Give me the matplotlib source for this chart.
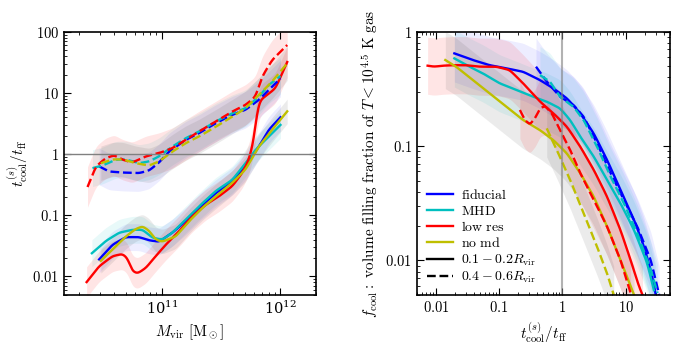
"""
Cooling time ratio vs halo mass, and cool gas filling fraction vs t_cool/t_ff.
"""
import numpy as np
import matplotlib

matplotlib.use("Agg")
import matplotlib.pyplot as plt
from matplotlib.ticker import FuncFormatter, LogLocator

plt.rcParams["mathtext.fontset"] = "cm"
plt.rcParams["font.family"] = "DejaVu Serif"
plt.rcParams["font.size"] = 10.5

# ---- left panel: t_cool/t_ff vs M_vir (inner solid, outer dashed) ----
fid_in_m = [2.97e10, 3.85e10, 4.98e10, 6.45e10, 7.83e10, 9.5e10, 1.23e11, 1.59e11, 2.06e11,
            2.85e11, 3.93e11, 5.08e11, 6.58e11, 7.98e11, 1.0e12]
fid_in_t = [0.019, 0.033, 0.044, 0.044, 0.039, 0.037, 0.052, 0.080, 0.132,
            0.23, 0.36, 0.63, 1.33, 2.5, 4.0]
mhd_in_m = [2.58e10, 3.38e10, 4.38e10, 5.66e10, 6.9e10, 8.36e10, 1.01e11, 1.23e11, 1.59e11,
            2.06e11, 2.85e11, 3.93e11, 5.08e11, 6.17e11, 7.98e11, 1.0e12]
mhd_in_t = [0.024, 0.038, 0.052, 0.058, 0.058, 0.043, 0.040, 0.052, 0.085,
            0.14, 0.25, 0.38, 0.71, 1.18, 1.94, 3.0]
low_in_m = [2.33e10, 2.97e10, 3.85e10, 4.67e10, 5.14e10, 5.66e10, 6.25e10, 7.35e10, 8.9e10,
            1.08e11, 1.4e11, 1.81e11, 2.35e11, 3.03e11, 3.93e11, 4.76e11, 5.42e11, 5.97e11,
            6.37e11, 6.79e11, 7.73e11, 9.08e11, 1.14e12]
low_in_t = [0.0081, 0.0147, 0.0215, 0.0234, 0.020, 0.0122, 0.0112, 0.0138, 0.0215,
            0.033, 0.055, 0.096, 0.149, 0.204, 0.30, 0.49, 0.81, 1.71,
            5.3, 7.7, 9.3, 11.9, 32.0]
nomd_in_m = [3.07e10, 3.85e10, 4.98e10, 6.05e10, 6.9e10, 7.83e10, 8.9e10, 1.01e11, 1.31e11,
             1.7e11, 2.2e11, 2.85e11, 3.93e11, 5.08e11, 6.58e11, 8.5e11, 1.14e12]
nomd_in_t = [0.018, 0.0275, 0.045, 0.060, 0.066, 0.056, 0.040, 0.037, 0.045,
             0.080, 0.132, 0.204, 0.34, 0.56, 1.33, 2.5, 5.0]

fid_out_m = [2.97e10, 3.6e10, 4.67e10, 6.45e10, 7.83e10, 9.5e10, 1.15e11, 1.59e11, 2.06e11,
             2.85e11, 3.93e11, 5.08e11, 6.58e11, 7.98e11, 1.0e12]
fid_out_t = [0.63, 0.52, 0.50, 0.49, 0.54, 0.73, 1.10, 1.71, 2.2,
             3.2, 4.4, 5.3, 7.7, 11.2, 17.3]
mhd_out_m = [2.61e10, 3.17e10, 4.1e10, 4.98e10, 6.45e10, 7.83e10, 9.5e10, 1.23e11, 1.59e11,
             2.06e11, 2.85e11, 3.93e11, 5.08e11, 6.58e11, 7.98e11, 1.0e12]
mhd_out_t = [0.59, 0.65, 0.81, 0.82, 0.71, 0.76, 0.92, 1.33, 1.82,
             2.34, 3.41, 4.66, 5.6, 8.7, 13.5, 18.9]
low_out_m = [2.37e10, 2.79e10, 3.38e10, 3.98e10, 4.67e10, 5.66e10, 7.35e10, 9.5e10, 1.23e11,
             1.59e11, 2.06e11, 2.85e11, 3.93e11, 5.08e11, 6.17e11, 7.0e11, 8.5e11, 1.14e12]
low_out_t = [0.29, 0.63, 0.86, 0.96, 0.81, 0.73, 0.92, 1.04, 1.25,
             1.71, 2.34, 3.41, 4.97, 6.37, 8.7, 18.4, 34.5, 60.7]
nomd_out_m = [3.07e10, 3.85e10, 4.67e10, 6.05e10, 7.83e10, 9.5e10, 1.23e11, 1.59e11, 2.06e11,
              2.85e11, 3.93e11, 5.08e11, 6.58e11, 8.5e11, 1.14e12]
nomd_out_t = [0.71, 0.82, 0.82, 0.71, 0.65, 0.76, 1.10, 1.51, 1.94,
              2.8, 4.1, 5.6, 9.3, 15.3, 30.5]

# ---- right panel: f_cool vs t_cool/t_ff ----
fid_in_x = [0.0196, 0.0384, 0.0708, 0.130, 0.240, 0.443, 0.72, 1.18, 1.92, 3.14, 5.1, 8.3,
            13.6, 19.6, 26.6, 30.0]
fid_in_f = [0.647, 0.566, 0.51, 0.479, 0.447, 0.378, 0.32, 0.262, 0.194, 0.129, 0.0757, 0.0414,
            0.0227, 0.0132, 0.0072, 0.005]
mhd_in_x = [0.0196, 0.034, 0.0553, 0.102, 0.188, 0.347, 0.566, 0.92, 1.33, 1.92, 3.14, 5.1,
            8.3, 13.6, 22.0, 28.0]
mhd_in_f = [0.585, 0.495, 0.433, 0.354, 0.31, 0.27, 0.245, 0.214, 0.169, 0.121, 0.081, 0.0506,
            0.0317, 0.0185, 0.0095, 0.0055]
low_in_x = [0.0074, 0.0094, 0.0128, 0.0185, 0.030, 0.049, 0.090, 0.147, 0.24, 0.443, 0.72,
            1.18, 1.92, 3.14, 5.1, 8.3, 12.0, 16.3, 18.5]
low_in_f = [0.505, 0.495, 0.505, 0.51, 0.51, 0.495, 0.495, 0.463, 0.354, 0.245, 0.194,
            0.148, 0.099, 0.062, 0.0362, 0.0185, 0.0101, 0.0059, 0.005]
nomd_in_x = [0.0141, 0.0209, 0.0384, 0.0708, 0.130, 0.24, 0.443, 0.72, 1.18, 1.92, 3.14, 5.1,
             8.3, 12.0, 13.6]
nomd_in_f = [0.566, 0.495, 0.378, 0.289, 0.221, 0.169, 0.138, 0.113, 0.0865, 0.058, 0.0362,
             0.0198, 0.0101, 0.0059, 0.005]

fid_out_x = [0.383, 0.566, 0.92, 1.50, 2.17, 3.54, 5.8, 9.4, 15.3, 25.0, 34.0]
fid_out_f = [0.495, 0.366, 0.27, 0.229, 0.181, 0.106, 0.058, 0.0339, 0.0198, 0.0101, 0.005]
mhd_out_x = [0.443, 0.638, 0.92, 1.50, 2.17, 3.54, 5.8, 9.4, 15.3, 25.0, 32.0]
mhd_out_f = [0.418, 0.366, 0.27, 0.221, 0.169, 0.099, 0.054, 0.0317, 0.0173, 0.0083, 0.0052]
low_out_x = [0.213, 0.255, 0.307, 0.369, 0.443, 0.532, 0.68, 0.92, 1.33, 1.92, 3.14, 5.1,
             8.3, 12.0]
low_out_f = [0.207, 0.169, 0.155, 0.175, 0.214, 0.224, 0.194, 0.138, 0.0926, 0.058, 0.0339,
             0.0198, 0.0101, 0.0052]
nomd_out_x = [0.566, 0.817, 1.33, 2.17, 3.54, 5.1, 6.5]
nomd_out_f = [0.143, 0.0926, 0.0506, 0.0259, 0.0132, 0.0077, 0.005]

labels = ["fiducial", "MHD", "low res", "no md"]
colors = ["b", "c", "r", "y"]
band_colors = ["b", "c", "r", "0.3"]
band_alpha = [0.07, 0.09, 0.1, 0.11]
# rough half-width of the shaded scatter bands, in dex
left_band = [0.22, 0.22, 0.25, 0.2]
right_band = [0.25, 0.25, 0.25, 0.25]

left_in = [(fid_in_m, fid_in_t), (mhd_in_m, mhd_in_t), (low_in_m, low_in_t), (nomd_in_m, nomd_in_t)]
left_out = [(fid_out_m, fid_out_t), (mhd_out_m, mhd_out_t), (low_out_m, low_out_t),
            (nomd_out_m, nomd_out_t)]
right_in = [(fid_in_x, fid_in_f), (mhd_in_x, mhd_in_f), (low_in_x, low_in_f), (nomd_in_x, nomd_in_f)]
right_out = [(fid_out_x, fid_out_f), (mhd_out_x, mhd_out_f), (low_out_x, low_out_f),
             (nomd_out_x, nomd_out_f)]


def smooth(x, y, n=300, k=7):
    # resample in log space and round off the corners a little
    lx, ly = np.log10(x), np.log10(y)
    xs = np.linspace(lx[0], lx[-1], n)
    ys = np.interp(xs, lx, ly)
    # linear extrapolation at the ends so the smoothing doesn't bend them
    left = ys[0] - (ys[1] - ys[0]) * np.arange(k, 0, -1)
    right = ys[-1] + (ys[-1] - ys[-2]) * np.arange(1, k + 1)
    pad = np.concatenate([left, ys, right])
    kern = np.exp(-0.5 * (np.arange(-k, k + 1) / (k / 2.5)) ** 2)
    ys = np.convolve(pad, kern / kern.sum(), mode="same")[k:-k]
    return 10 ** xs, 10 ** ys


def draw(ax, series, ls, widths):
    for (x, y), c, bc, a, w in zip(series, colors, band_colors, band_alpha, widths):
        xs, ys = smooth(x, y)
        ax.fill_between(xs, ys / 10 ** w, ys * 10 ** w, color=bc, alpha=a, lw=0)
        ax.plot(xs, ys, color=c, ls=ls, lw=1.7)


def tick_fmt(v, pos):
    if v >= 1:
        return r"$%d$" % round(v)
    return r"$%g$" % v


def style(ax):
    ax.set_xscale("log")
    ax.set_yscale("log")
    ax.tick_params(which="both", direction="in", top=True, right=True)
    ax.tick_params(which="major", length=5, width=0.8)
    ax.tick_params(which="minor", length=2.5, width=0.6)
    ax.yaxis.set_major_formatter(FuncFormatter(tick_fmt))
    for s in ax.spines.values():
        s.set_linewidth(1.2)


fig = plt.figure(figsize=(6.8, 3.49), dpi=100)
ax1 = fig.add_axes([0.094, 0.155, 0.371, 0.754])
ax2 = fig.add_axes([0.613, 0.155, 0.372, 0.754])

draw(ax1, left_in, "-", left_band)
draw(ax1, left_out, "--", [w + 0.08 for w in left_band])
ax1.axhline(1, color="0.5", lw=1)
style(ax1)
ax1.set_xlim(1.5e10, 2e12)
ax1.set_ylim(0.005, 100)
ax1.xaxis.set_major_locator(LogLocator(base=10, numticks=10))
ax1.set_xlabel(r"$M_{\rm vir}\ [{\rm M}_\odot]$", fontsize=11)
ax1.set_ylabel(r"$t_{\rm cool}^{(s)}/t_{\rm ff}$", fontsize=11, labelpad=2)

draw(ax2, right_in, "-", right_band)
draw(ax2, right_out, "--", right_band)
ax2.axvline(1, color="0.5", lw=1.5, alpha=0.6)
style(ax2)
ax2.xaxis.set_major_formatter(FuncFormatter(tick_fmt))
ax2.set_xlim(0.005, 50)
ax2.set_ylim(0.005, 1)
ax2.set_xlabel(r"$t_{\rm cool}^{(s)}/t_{\rm ff}$", fontsize=11)
ax2.set_ylabel(r"$f_{\rm cool}\mathrm{:\ volume\ filling\ fraction\ of\ }T<10^{4.5}\ \mathrm{K\ gas}$",
               fontsize=11, labelpad=3)

handles = [plt.Line2D([], [], color=c, lw=1.7) for c in colors]
handles += [plt.Line2D([], [], color="k", lw=1.7), plt.Line2D([], [], color="k", lw=1.7, ls="--")]
names = [r"$\mathrm{%s}$" % l.replace(" ", r"\ ") for l in labels]
names += [r"$0.1-0.2R_{\rm vir}$", r"$0.4-0.6R_{\rm vir}$"]
ax2.legend(handles, names, loc="lower left", frameon=False, handlelength=1.9,
           handletextpad=0.6, labelspacing=0.15, borderaxespad=0.3, fontsize=10)

fig.savefig("out.png", dpi=100)
